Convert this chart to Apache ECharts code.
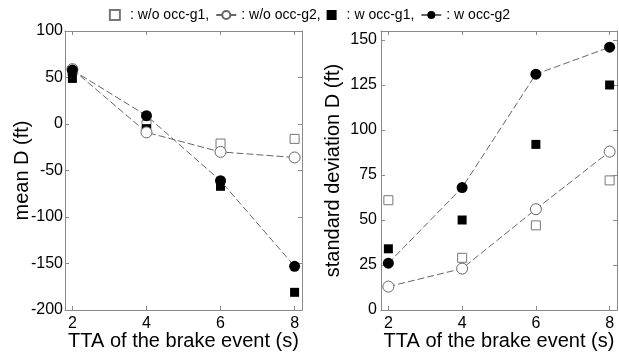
<!DOCTYPE html>
<html>
<head>
<meta charset="utf-8">
<script src="https://cdn.jsdelivr.net/npm/echarts@6/dist/echarts.min.js"></script>
<style>
  html, body { margin: 0; padding: 0; background: #fff; }
  #chart { width: 619px; height: 354px; }
</style>
</head>
<body>
<div id="chart"></div>
<script>
// Time-to-arrival of the brake event (s)
const tta = [2, 4, 6, 8];
const xTicks = [2, 4, 6, 8];

// Mean D (ft)
const meanWoG1 = [57, -1, -21, -16];
const meanWoG2 = [59, -9, -30, -36];
const meanWG1 = [49, -5, -67, -181];
const meanWG2 = [58, 9, -61, -153];
const meanTicks = [-200, -150, -100, -50, 0, 50, 100];

// Standard deviation of D (ft)
const sdWoG1 = [61, 29, 47, 72];
const sdWoG2 = [13, 23, 56, 88];
const sdWG1 = [34, 50, 92, 125];
const sdWG2 = [26, 68, 131, 146];
const sdTicks = [0, 25, 50, 75, 100, 125, 150];

const names = ['w/o occ-g1', 'w/o occ-g2', 'w occ-g1', 'w occ-g2'];

const FONT = 'Liberation Sans, Arial, Helvetica, sans-serif';
const BOX = '#8a8a8a';
const LINE = '#666666';

function pairs(ys) { return tta.map((x, i) => [x, ys[i]]); }

function xAxisDef(grid, pos, withLabels) {
  return {
    type: 'value', gridIndex: grid, position: pos, min: 1.8, max: 8.2,
    name: withLabels ? 'TTA of the brake event (s)' : '',
    nameLocation: 'middle', nameGap: 21, nameMoveOverlap: false,
    nameTextStyle: { fontFamily: FONT, fontSize: 20, color: '#000' },
    axisLine: { show: true, onZero: false, lineStyle: { color: BOX, width: 1 } },
    axisTick: { show: true, inside: true, length: 4, customValues: xTicks, lineStyle: { color: BOX } },
    axisLabel: { show: withLabels, customValues: xTicks, margin: 6, fontFamily: FONT, fontSize: 16, color: '#000' },
    splitLine: { show: false }
  };
}

function yAxisDef(grid, pos, min, max, ticks, title, gap, margin) {
  const main = pos === 'left';
  return {
    type: 'value', gridIndex: grid, position: pos, min: min, max: max,
    name: main ? title : '', nameLocation: 'middle', nameGap: gap, nameRotate: 90,
    nameMoveOverlap: false,
    nameTextStyle: { fontFamily: FONT, fontSize: 20, color: '#000' },
    axisLine: { show: true, onZero: false, lineStyle: { color: BOX, width: 1 } },
    axisTick: { show: true, inside: true, length: 4, customValues: ticks, lineStyle: { color: BOX } },
    axisLabel: { show: main, customValues: ticks, margin: margin, fontFamily: FONT, fontSize: 16, color: '#000' },
    splitLine: { show: false }
  };
}

function openSquares(ys, xi, yi) {
  return {
    name: names[0], type: 'scatter', xAxisIndex: xi, yAxisIndex: yi,
    symbol: 'rect', symbolSize: 9,
    itemStyle: { color: '#fff', borderColor: '#777', borderWidth: 1, opacity: 1 },
    data: pairs(ys)
  };
}
function openCircles(ys, xi, yi) {
  return {
    name: names[1], type: 'line', xAxisIndex: xi, yAxisIndex: yi,
    symbol: 'circle', symbolSize: 11, showAllSymbol: true,
    lineStyle: { color: LINE, width: 1, type: [7, 3] },
    itemStyle: { color: '#fff', borderColor: '#666', borderWidth: 1, opacity: 1 },
    data: pairs(ys)
  };
}
function filledSquares(ys, xi, yi) {
  return {
    name: names[2], type: 'scatter', xAxisIndex: xi, yAxisIndex: yi,
    symbol: 'rect', symbolSize: 9,
    itemStyle: { color: '#000', opacity: 1 },
    data: pairs(ys)
  };
}
function filledCircles(ys, xi, yi) {
  return {
    name: names[3], type: 'line', xAxisIndex: xi, yAxisIndex: yi,
    symbol: 'circle', symbolSize: 11, showAllSymbol: true,
    lineStyle: { color: LINE, width: 1, type: [7, 3] },
    itemStyle: { color: '#000', borderColor: '#000', borderWidth: 0, opacity: 1 },
    data: pairs(ys)
  };
}

const chart = echarts.init(document.getElementById('chart'), null, { renderer: 'canvas' });
chart.setOption({
  animation: false,
  backgroundColor: '#fff',
  legend: {
    top: 3, left: 'center',
    itemWidth: 20, itemHeight: 10, itemGap: 6,
    symbolKeepAspect: true,
    textStyle: { fontFamily: FONT, fontSize: 14, color: '#000' },
    formatter: function (n) { return ': ' + n + (n === names[3] ? '' : ','); },
    data: [
      { name: names[0], icon: 'path://M0,0h10v10h-10z' },
      { name: names[1], lineStyle: { type: 'solid' } },
      { name: names[2], icon: 'path://M0,0h10v10h-10z' },
      { name: names[3], lineStyle: { type: 'solid' } }
    ]
  },
  grid: [
    { left: 65, right: 317, top: 31, bottom: 44, outerBoundsMode: 'none', containLabel: false },
    { left: 381, right: 2, top: 31, bottom: 44, outerBoundsMode: 'none', containLabel: false }
  ],
  xAxis: [
    xAxisDef(0, 'bottom', true),
    xAxisDef(1, 'bottom', true),
    xAxisDef(0, 'top', false),
    xAxisDef(1, 'top', false)
  ],
  yAxis: [
    yAxisDef(0, 'left', -200, 100, meanTicks, 'mean D (ft)', 33, 2),
    yAxisDef(1, 'left', 0, 155, sdTicks, 'standard deviation D (ft)', 38, 4),
    yAxisDef(0, 'right', -200, 100, meanTicks, '', 0, 2),
    yAxisDef(1, 'right', 0, 155, sdTicks, '', 0, 2)
  ],
  series: [
    openSquares(meanWoG1, 0, 0),
    openCircles(meanWoG2, 0, 0),
    filledSquares(meanWG1, 0, 0),
    filledCircles(meanWG2, 0, 0),
    openSquares(sdWoG1, 1, 1),
    openCircles(sdWoG2, 1, 1),
    filledSquares(sdWG1, 1, 1),
    filledCircles(sdWG2, 1, 1)
  ]
});
</script>
</body>
</html>
